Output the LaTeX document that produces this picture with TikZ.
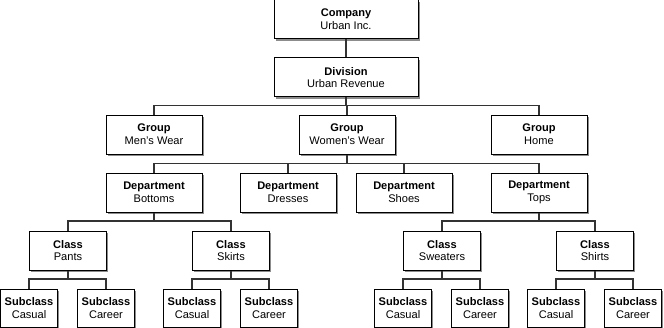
\documentclass[tikz,border=0pt]{standalone}
\usepackage{fontspec}
\setmainfont{Liberation Sans}
\usepackage{tikz}
\usetikzlibrary{shadows}

\begin{document}
\begin{tikzpicture}[
  x=0.75pt, y=-0.75pt,
  every node/.style={font=\fontsize{8.3}{9.6}\selectfont},
  box/.style={rectangle, draw, line width=0.75pt, fill=white, minimum width=72pt, minimum height=29.25pt, inner sep=1pt, align=center,
    drop shadow={shadow xshift=1.3pt, shadow yshift=-1.3pt, fill=black!45, opacity=1}},
  topbox/.style={box, minimum width=108pt},
  clsbox/.style={box, minimum width=57.5pt},
  subbox/.style={box, minimum width=43pt, minimum height=28.5pt},
  conn/.style={draw=black!80, line width=0.8pt}
]
\useasboundingbox (0,0) rectangle (664,328);

% Company and division
\node[topbox] (comp) at (346,19.5) {\textbf{Company}\\Urban Inc.};
\node[topbox] (div) at (346,77.5) {\textbf{Division}\\Urban Revenue};

% Groups
\node[box] (men) at (154,134.5) {\textbf{Group}\\Men's Wear};
\node[box] (wom) at (347,134.5) {\textbf{Group}\\Women's Wear};
\node[box] (home) at (539,134.5) {\textbf{Group}\\Home};

% Departments
\node[box] (bot) at (154,192.5) {\textbf{Department}\\Bottoms};
\node[box] (dre) at (288,192.5) {\textbf{Department}\\Dresses};
\node[box] (sho) at (404,192.5) {\textbf{Department}\\Shoes};
\node[box] (tops) at (539,192.5) {\textbf{Department}\\Tops};

% Classes
\node[clsbox] (pants) at (68,250.5) {\textbf{Class}\\Pants};
\node[clsbox] (skirts) at (231,250.5) {\textbf{Class}\\Skirts};
\node[clsbox] (sweat) at (442,250.5) {\textbf{Class}\\Sweaters};
\node[clsbox] (shirts) at (595,250.5) {\textbf{Class}\\Shirts};

% Subclasses
\node[subbox] (pcas) at (29,308) {\textbf{Subclass}\\Casual};
\node[subbox] (pcar) at (106,308) {\textbf{Subclass}\\Career};
\node[subbox] (kcas) at (192,308) {\textbf{Subclass}\\Casual};
\node[subbox] (kcar) at (269,308) {\textbf{Subclass}\\Career};
\node[subbox] (wcas) at (403,308) {\textbf{Subclass}\\Casual};
\node[subbox] (wcar) at (480,308) {\textbf{Subclass}\\Career};
\node[subbox] (scas) at (556,308) {\textbf{Subclass}\\Casual};
\node[subbox] (scar) at (633,308) {\textbf{Subclass}\\Career};

% Connectors
\draw[conn] (comp) -- (div);
\draw[conn] (men.north) -- ++(0,-9) -| (div.south);
\draw[conn] (wom.north) -- ++(0,-9) -| (div.south);
\draw[conn] (home.north) -- ++(0,-9) -| (div.south);
\draw[conn] (bot.north) -- ++(0,-9) -| (wom.south);
\draw[conn] (dre.north) -- ++(0,-9) -| (wom.south);
\draw[conn] (sho.north) -- ++(0,-9) -| (wom.south);
\draw[conn] (tops.north) -- ++(0,-9) -| (wom.south);
\draw[conn] (pants.north) -- ++(0,-9.5) -| (bot.south);
\draw[conn] (skirts.north) -- ++(0,-9.5) -| (bot.south);
\draw[conn] (sweat.north) -- ++(0,-9.5) -| (tops.south);
\draw[conn] (shirts.north) -- ++(0,-9.5) -| (tops.south);
\draw[conn] (pcas.north) -- ++(0,-9.5) -| (pants.south);
\draw[conn] (pcar.north) -- ++(0,-9.5) -| (pants.south);
\draw[conn] (kcas.north) -- ++(0,-9.5) -| (skirts.south);
\draw[conn] (kcar.north) -- ++(0,-9.5) -| (skirts.south);
\draw[conn] (wcas.north) -- ++(0,-9.5) -| (sweat.south);
\draw[conn] (wcar.north) -- ++(0,-9.5) -| (sweat.south);
\draw[conn] (scas.north) -- ++(0,-9.5) -| (shirts.south);
\draw[conn] (scar.north) -- ++(0,-9.5) -| (shirts.south);

\end{tikzpicture}
\end{document}
